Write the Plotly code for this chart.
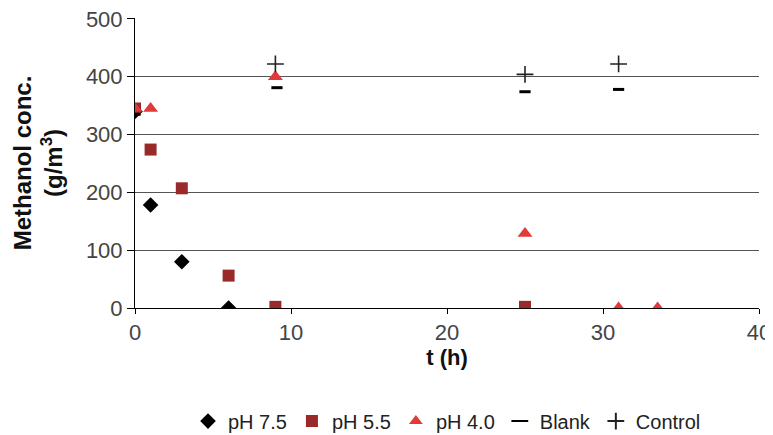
import plotly.graph_objects as go

t_75 = [0, 1, 3, 6]
c_75 = [340, 178, 80, 0]
t_55 = [0, 1, 3, 6, 9, 25]
c_55 = [345, 274, 207, 56, 2, 2]
t_40 = [0, 1, 9, 25, 31, 33.5]
c_40 = [345, 345, 400, 129, 0, 0]
t_blank = [0, 9.1, 25, 31]
c_blank = [335, 381, 374, 378]
t_ctrl = [9, 25, 31]
c_ctrl = [422, 404, 422]

fig = go.Figure()
fig.add_trace(go.Scatter(x=t_75, y=c_75, mode="markers", name="pH 7.5",
                         marker=dict(symbol="diamond", size=12, color="black")))
fig.add_trace(go.Scatter(x=t_55, y=c_55, mode="markers", name="pH 5.5",
                         marker=dict(symbol="square", size=12, color="#9a2a2a")))
fig.add_trace(go.Scatter(x=t_40, y=c_40, mode="markers", name="pH 4.0",
                         marker=dict(symbol="triangle-up", size=13, color="#e03a3a")))
fig.add_trace(go.Scatter(x=t_blank, y=c_blank, mode="markers", name="Blank",
                         marker=dict(symbol="line-ew", size=8, color="black",
                                     line=dict(width=3, color="black"))))
fig.add_trace(go.Scatter(x=t_ctrl, y=c_ctrl, mode="markers", name="Control",
                         marker=dict(symbol="cross-thin", size=12, color="black",
                                     line=dict(width=1.6, color="#222"))))

fig.update_layout(
    width=765, height=427,
    margin=dict(l=127, r=14, t=10, b=127, autoexpand=False),
    paper_bgcolor="white", plot_bgcolor="white",
    font=dict(family="Liberation Sans, Arial, sans-serif", color="#444", size=22),
    showlegend=True,
    legend=dict(orientation="h", x=0.5, xanchor="center", y=-0.39, yanchor="middle",
                font=dict(size=20, color="#222"), itemwidth=30, traceorder="normal",
                itemsizing="constant"),
)
fig.update_xaxes(range=[0, 40], dtick=10, showgrid=False, zeroline=False,
                 showline=True, linecolor="black", linewidth=1,
                 ticks="outside", ticklen=5, tickcolor="black",
                 tickfont=dict(size=22, color="#444"), automargin=False,
                 ticklabeloverflow="allow",
                 title=dict(text="<b>t (h)</b>", font=dict(size=22, color="#111"), standoff=5))
fig.update_yaxes(range=[0, 501.5], dtick=100, showgrid=True, gridcolor="#555", gridwidth=1,
                 zeroline=False, showline=True, linecolor="black", linewidth=1,
                 ticks="outside", ticklen=7, tickcolor="black",
                 tickfont=dict(size=22, color="#444"), automargin=False,
                 ticklabeloverflow="allow",
                 title=dict(text="<b>Methanol conc.<br>(g/m<sup>3</sup>)</b>",
                            font=dict(size=24, color="#111"), standoff=16))

fig.write_html("out.html")
